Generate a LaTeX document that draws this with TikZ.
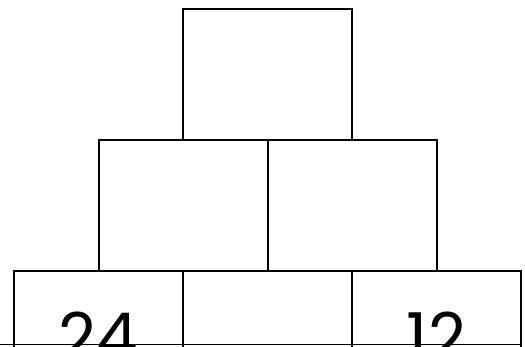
\documentclass[tikz,border=0pt]{standalone}
\usepackage{fontspec}
\setmainfont{Poppins}
\begin{document}
\begin{tikzpicture}[x=1pt,y=-1pt,
  brick/.style={draw=black,line width=2.8pt,minimum width=169pt,minimum height=131pt,inner sep=0pt,outer sep=0pt,anchor=north west},
  num/.style={font=\fontsize{66}{66}\selectfont,inner sep=0pt}]
\useasboundingbox (0,0) rectangle (525,346);
\clip (0,0) rectangle (525,346);
\node[brick] (top) at (183,9) {};
\node[brick] (ml) at (99,140) {};
\node[brick] (mr) at (268,140) {};
\node[brick] (bl) at (14,271) {};
\node[brick] (bm) at (183,271) {};
\node[brick] (br) at (352,271) {};
\node[num] (n24) at (bl.center) {24};
\node[num] (n12) at (br.center) {12};
\coordinate (ll) at (0,344.5);
\coordinate (lr) at (522,344.5);
\draw[line width=1.5pt] (ll) -- (lr);
\end{tikzpicture}
\end{document}
